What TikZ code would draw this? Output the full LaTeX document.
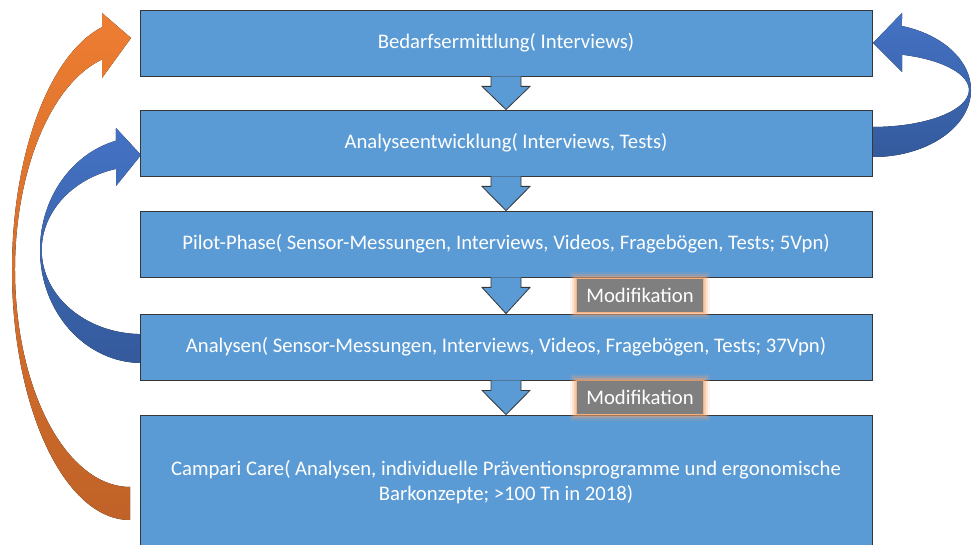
\documentclass[tikz,border=0pt]{standalone}
\usepackage{fontspec}
\setmainfont{Carlito}
\usepackage{tikz}
\usetikzlibrary{calc}
\definecolor{kasten}{RGB}{91,155,213}
\definecolor{rand}{RGB}{55,55,55}
\definecolor{grau}{RGB}{127,127,127}
\definecolor{glut}{RGB}{244,165,110}
\definecolor{orangeoben}{RGB}{237,125,49}
\definecolor{orangeunten}{RGB}{192,98,40}
\definecolor{blauoben}{RGB}{68,114,196}
\definecolor{blauunten}{RGB}{52,90,156}
\newcommand{\pfeilab}[2]{\draw[pfeil] ($(#1.south)+(-15,0)$) -- ($(#1.south)+(-15,10)$) -- ($(#1.south)+(-24,10)$) -- (#2.north) -- ($(#1.south)+(24,10)$) -- ($(#1.south)+(15,10)$) -- ($(#1.south)+(15,0)$);}
\tikzstyle{phase} = [draw=rand, fill=kasten, line width=0.8pt, rectangle, minimum width=732pt, minimum height=66pt, inner sep=0pt, text=white, align=center, font=\fontsize{20.7}{25}\selectfont]
\tikzstyle{pfeil} = [draw=rand, fill=kasten, line width=0.8pt]
\tikzstyle{modifikation} = [fill=grau, text=white, minimum width=126pt, minimum height=33pt, inner sep=0pt, font=\fontsize{20.7}{24}\selectfont, preaction={draw=glut, line width=14pt, opacity=0.12, rounded corners=5pt}, preaction={draw=glut, line width=10pt, opacity=0.22, rounded corners=4pt}, preaction={draw=glut, line width=6pt, opacity=0.4, rounded corners=2pt}, preaction={draw=glut, line width=2.5pt, opacity=0.7}]
\tikzstyle{orangebogen} = [top color=orangeoben, bottom color=orangeunten]
\tikzstyle{blaubogen} = [top color=blauoben, bottom color=blauunten]

\begin{document}
\begin{tikzpicture}[x=1pt, y=1pt, yscale=-1]
	\clip (0,0) rectangle (972,545);
	% Rueckkopplungen
	\fill[orangebogen] (130,520) arc[start angle=90, end angle=256.3, x radius=118pt, y radius=250pt] -- (102,13) -- (131,38) -- (102,78) -- (102,59.5) arc[start angle=255.9, end angle=90, x radius=115pt, y radius=217pt] -- cycle;
	\fill[blaubogen] (142,363) arc[start angle=90, end angle=255.2, x radius=102pt, y radius=113pt] -- (116,128) -- (141,155) -- (116,186) -- (116,168.9) arc[start angle=255.1, end angle=90, x radius=100pt, y radius=84pt] -- cycle;
	\fill[blaubogen] (873,157) arc[start angle=90, end angle=-72.8, x radius=98pt, y radius=67pt] -- (902,13) -- (873,43) -- (902,72) -- (902,54.7) arc[start angle=-72.4, end angle=90, x radius=96pt, y radius=37pt] -- cycle;
	% Phasen
	\node[phase] (bedarf) at (506,43) {Bedarfsermittlung( Interviews)};
	\node[phase] (analyse) at (506,143) {Analyseentwicklung( Interviews, Tests)};
	\node[phase] (pilot) at (506,244) {Pilot-Phase( Sensor-Messungen, Interviews, Videos, Fragebögen, Tests; 5Vpn)};
	\node[phase] (analysen) at (506,347) {Analysen( Sensor-Messungen, Interviews, Videos, Fragebögen, Tests; 37Vpn)};
	\node[phase, minimum height=134pt] (campari) at (506,482) {Campari Care( Analysen, individuelle Präventionsprogramme und ergonomische\\Barkonzepte; >100 Tn in 2018)};
	\pfeilab{bedarf}{analyse}
	\pfeilab{analyse}{pilot}
	\pfeilab{pilot}{analysen}
	\pfeilab{analysen}{campari}
	\node[modifikation, xshift=134pt] (mod1) at ($(pilot.south)!0.5!(analysen.north)$) {Modifikation};
	\node[modifikation, xshift=134pt] (mod2) at ($(analysen.south)!0.5!(campari.north)$) {Modifikation};
\end{tikzpicture}
\end{document}
